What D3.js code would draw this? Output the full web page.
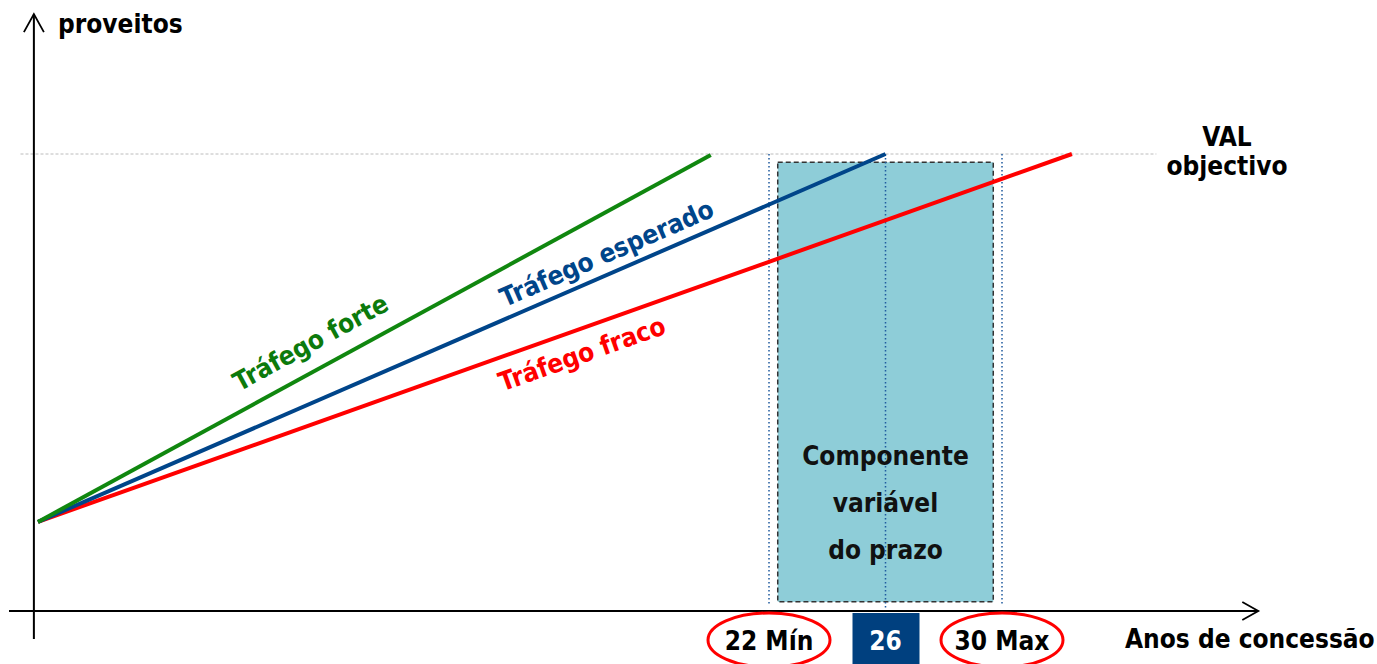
<!DOCTYPE html>
<html>
<head>
<meta charset="utf-8">
<script src="https://cdn.jsdelivr.net/npm/d3@7"></script>
<style>
  body { margin: 0; background: #fff; }
  svg text { font-family: Tahoma, "DejaVu Sans Condensed", "DejaVu Sans", sans-serif; font-stretch: condensed; font-weight: bold; }
</style>
</head>
<body>
<svg></svg>
<script>
// conceptual chart: proveitos vs anos de concessão
var screen = {width: 1377, height: 664}

var scenarios = ["Tráfego forte", "Tráfego esperado", "Tráfego fraco"]
var colors = ["#10870f", "#00458a", "#ff0000"]
var textColors = ["#0c7a0c", "#00458a", "#ff0000"]
var startYear = -3.1
var startValue = 19.5
var endYears = [20, 26, 32.4]
var endValues = [99.8, 100, 100]
// where label sits along each line, and its offset from the line
var labelYears = [6.7, 16.7, 15.3]
var labelOffsets = [-18, -11, 33]

var valTarget = 100
var yearMarks = [22, 26, 30]
var yearLabels = ["22 Mín", "26", "30 Max"]
var boxYears = [22.3, 29.7]
var boxValues = [2, 98.2]
var boxText = ["Componente", "variável", "do prazo"]

var axisYears = [-3.24, 38.8]
var axisValues = [-6.1, 130.6]

var fs = "26px"

var svg = d3.select("svg")
    .attr("width", screen.width)
    .attr("height", screen.height)

var xScale = d3.scaleLinear()
    .domain([22, 30])
    .range([769, 1002])
var yScale = d3.scaleLinear()
    .domain([0, 100])
    .range([611, 154])

// VAL objectivo guide line
svg.append("line")
    .attr("x1", xScale(-3.7)).attr("x2", xScale(35.3))
    .attr("y1", yScale(valTarget)).attr("y2", yScale(valTarget))
    .attr("stroke", "#bcbcbc")
    .attr("stroke-width", 1)
    .attr("stroke-dasharray", "3,2")

// variable term box
svg.append("rect")
    .attr("x", xScale(boxYears[0]))
    .attr("y", yScale(boxValues[1]))
    .attr("width", xScale(boxYears[1]) - xScale(boxYears[0]))
    .attr("height", yScale(boxValues[0]) - yScale(boxValues[1]))
    .attr("fill", "#8ecdd8")
    .attr("stroke", "#333")
    .attr("stroke-width", 1.5)
    .attr("stroke-dasharray", "5,3")

// dotted verticals at 22, 26, 30
svg.selectAll(".vmark")
    .data(yearMarks)
    .enter()
    .append("line")
    .attr("class", "vmark")
    .attr("x1", function(d){ return xScale(d) })
    .attr("x2", function(d){ return xScale(d) })
    .attr("y1", yScale(valTarget))
    .attr("y2", function(d, i){ return i == 1 ? yScale(-0.8) : yScale(1.3) })
    .attr("stroke", "#1f5a9e")
    .attr("stroke-width", 1.5)
    .attr("stroke-dasharray", "1.5,2.5")

svg.selectAll(".boxtext")
    .data(boxText)
    .enter()
    .append("text")
    .attr("class", "boxtext")
    .attr("x", xScale((boxYears[0] + boxYears[1]) / 2))
    .attr("y", function(d, i){ return 465 + i * 47 })
    .attr("text-anchor", "middle")
    .attr("font-size", fs)
    .attr("fill", "#111")
    .text(function(d){ return d })

// axes
var axisColor = "#000"
svg.append("line")
    .attr("x1", xScale(axisYears[0])).attr("x2", xScale(axisYears[0]))
    .attr("y1", yScale(axisValues[0])).attr("y2", yScale(axisValues[1]))
    .attr("stroke", axisColor).attr("stroke-width", 2)
svg.append("line")
    .attr("x1", 9).attr("x2", xScale(axisYears[1]))
    .attr("y1", yScale(0)).attr("y2", yScale(0))
    .attr("stroke", axisColor).attr("stroke-width", 2)

var tipY = [xScale(axisYears[0]), yScale(axisValues[1])]
svg.append("path")
    .attr("d", "M" + (tipY[0] - 10) + "," + (tipY[1] + 18) + "L" + tipY[0] + "," + tipY[1] + "L" + (tipY[0] + 10) + "," + (tipY[1] + 18))
    .attr("fill", "none").attr("stroke", axisColor).attr("stroke-width", 1.8)
var tipX = [xScale(axisYears[1]), yScale(0)]
svg.append("path")
    .attr("d", "M" + (tipX[0] - 16) + "," + (tipX[1] - 9) + "L" + tipX[0] + "," + tipX[1] + "L" + (tipX[0] - 16) + "," + (tipX[1] + 9))
    .attr("fill", "none").attr("stroke", axisColor).attr("stroke-width", 1.8)

svg.append("text")
    .attr("x", 58).attr("y", 33)
    .attr("font-size", fs)
    .text("proveitos")
svg.append("text")
    .attr("x", 1125).attr("y", 648)
    .attr("font-size", fs)
    .text("Anos de concessão")

svg.selectAll(".valtext")
    .data(["VAL", "objectivo"])
    .enter()
    .append("text")
    .attr("class", "valtext")
    .attr("x", 1227)
    .attr("y", function(d, i){ return 146 + i * 29 })
    .attr("text-anchor", "middle")
    .attr("font-size", fs)
    .text(function(d){ return d })

// revenue lines
var lines = scenarios.map(function(name, i){
    return {
        name: name,
        pts: [[startYear, startValue], [endYears[i], endValues[i]]],
        color: colors[i],
        textColor: textColors[i],
        labelYear: labelYears[i],
        offset: labelOffsets[i]
    }
})

var lineGen = d3.line()
    .x(function(p){ return xScale(p[0]) })
    .y(function(p){ return yScale(p[1]) })

svg.selectAll(".scen")
    .data(lines.slice().reverse())
    .enter()
    .append("path")
    .attr("class", "scen")
    .attr("d", function(d){ return lineGen(d.pts) })
    .attr("fill", "none")
    .attr("stroke", function(d){ return d.color })
    .attr("stroke-width", 4)

svg.selectAll(".scenlabel")
    .data(lines)
    .enter()
    .append("text")
    .attr("class", "scenlabel")
    .attr("transform", function(d){
        var x0 = xScale(d.pts[0][0]), y0 = yScale(d.pts[0][1])
        var x1 = xScale(d.pts[1][0]), y1 = yScale(d.pts[1][1])
        var ang = Math.atan2(y1 - y0, x1 - x0) * 180 / Math.PI
        var lx = xScale(d.labelYear)
        var ly = y0 + (y1 - y0) * (lx - x0) / (x1 - x0)
        return "translate(" + lx + "," + ly + ") rotate(" + ang + ")"
    })
    .attr("y", function(d){ return d.offset })
    .attr("text-anchor", "middle")
    .attr("font-size", fs)
    .attr("fill", function(d){ return d.textColor })
    .text(function(d){ return d.name })

// year labels under the axis
svg.append("rect")
    .attr("x", xScale(26) - 33)
    .attr("y", 613)
    .attr("width", 67)
    .attr("height", 60)
    .attr("fill", "#00407f")

svg.selectAll(".yring")
    .data([yearMarks[0], yearMarks[2]])
    .enter()
    .append("ellipse")
    .attr("class", "yring")
    .attr("cx", function(d){ return xScale(d) })
    .attr("cy", 640)
    .attr("rx", 61)
    .attr("ry", 27)
    .attr("fill", "none")
    .attr("stroke", "#ff0000")
    .attr("stroke-width", 3)

svg.selectAll(".ylabel")
    .data(yearMarks)
    .enter()
    .append("text")
    .attr("class", "ylabel")
    .attr("x", function(d){ return xScale(d) })
    .attr("y", 650)
    .attr("text-anchor", "middle")
    .attr("font-size", fs)
    .attr("fill", function(d, i){ return i == 1 ? "#fff" : "#000" })
    .text(function(d, i){ return yearLabels[i] })
</script>
</body>
</html>
